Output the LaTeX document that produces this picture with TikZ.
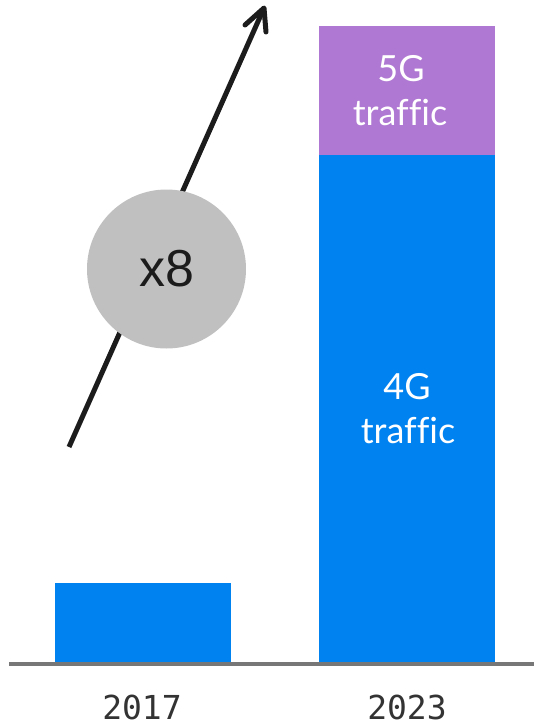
\documentclass[tikz,border=0pt]{standalone}
\usepackage{fontspec}
\setmainfont{Lato}[Ligatures=NoCommon]
\newfontfamily\numfont{Liberation Sans}
\newfontfamily\yearfont{DejaVu Sans Mono}
\usetikzlibrary{calc}
\definecolor{barblue}{HTML}{0082F0}
\definecolor{barpurple}{HTML}{AF78D2}
\definecolor{bubble}{HTML}{C0C0C0}
\definecolor{axisgray}{HTML}{777777}
\definecolor{ink}{HTML}{1C1C1C}
\tikzset{
  bar/.style={fill=barblue, draw=none},
  barlabel/.style={text=white, anchor=base, inner sep=0pt, font=\fontsize{36}{44}\selectfont},
  year/.style={text=ink!90!white, anchor=base, inner sep=0pt, text depth=0pt,
               font=\yearfont\fontsize{33}{40}\selectfont},
  growth/.style={draw=ink, line width=5pt},
}
\begin{document}
\begin{tikzpicture}[x=1pt,y=-1pt]
  \useasboundingbox (0,0) rectangle (534,726);

  % bars
  \fill[bar] (55,583) rectangle (231,662);
  \fill[bar] (319,155) rectangle (495,662);
  \fill[barpurple] (319,26) rectangle (495,155);

  % axis
  \draw[axisgray, line width=3.5pt] (9,664) -- (534,664);

  % growth arrow
  \coordinate (start) at (69,447);
  \coordinate (tip) at (264,8);
  \coordinate (armL) at (245,25);
  \coordinate (armR) at (266,32);
  \draw[growth, line cap=butt] (start) -- (tip);
  \draw[growth, line cap=round, line join=round] (armL) -- (tip) -- (armR);

  % growth factor bubble
  \node[circle, fill=bubble, minimum size=159pt, inner sep=0pt,
        text=ink, font=\numfont\fontsize{52}{60}\selectfont] (factor) at (166.5,269) {x8};

  % bar labels
  \node[barlabel] (l5a) at (401,81) {5G};
  \node[barlabel] (l5b) at (400,125) {traffic};
  \node[barlabel] (l4a) at (407,399) {4G};
  \node[barlabel] (l4b) at (408,443) {traffic};

  % years
  \node[year] (y1) at (142,719) {2017};
  \node[year] (y2) at (407,719) {2023};
\end{tikzpicture}
\end{document}
